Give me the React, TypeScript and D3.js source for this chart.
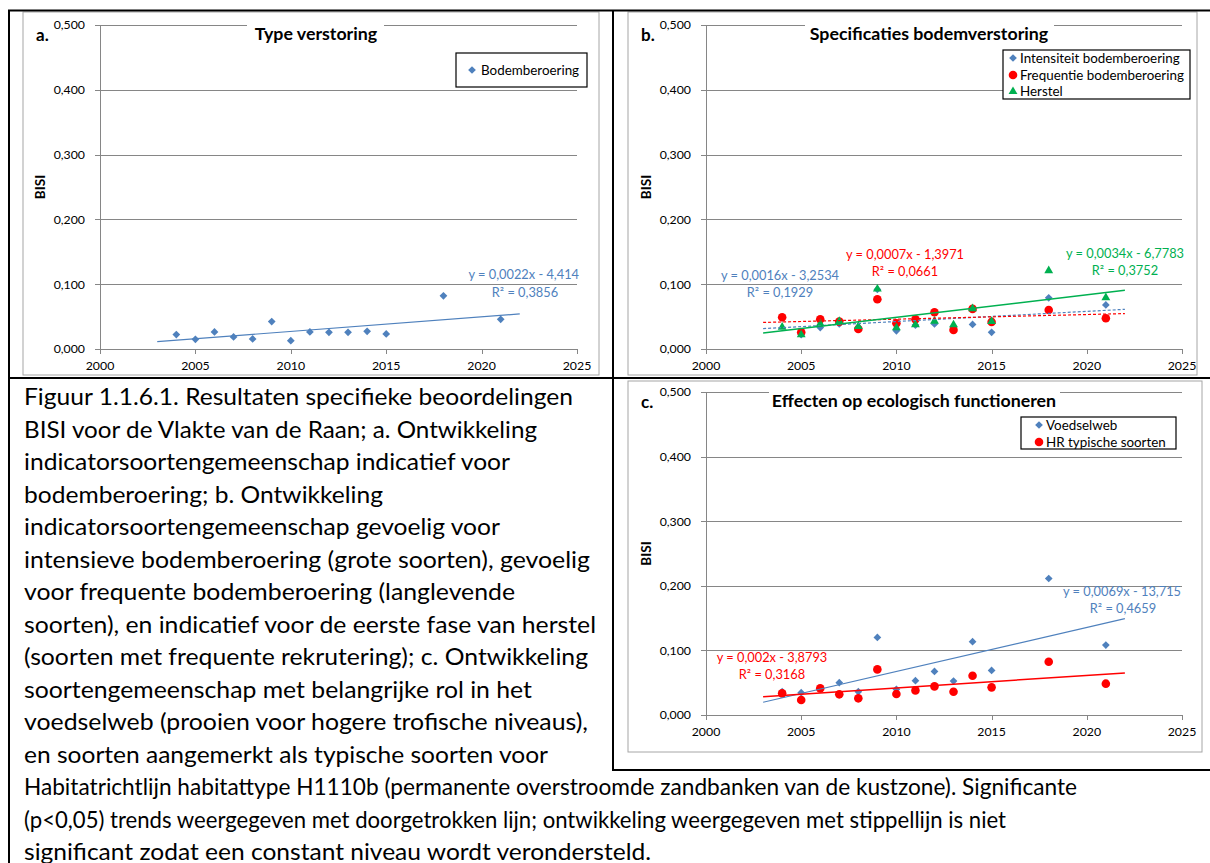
import React from "react";
import * as d3 from "d3";

// ---------- DATA ----------
const years = [2004, 2005, 2006, 2007, 2008, 2009, 2010, 2011, 2012, 2013, 2014, 2015, 2018, 2021];
const bodemberoering = [0.0222, 0.0149, 0.0263, 0.0186, 0.0155, 0.0423, 0.0129, 0.0263, 0.0258, 0.0258, 0.0273, 0.0232, 0.082, 0.0459];
const intensiteit = [0.048, 0.022, 0.033, 0.0387, 0.033, 0.092, 0.028, 0.037, 0.0387, 0.033, 0.038, 0.0258, 0.079, 0.068];
const frequentie = [0.049, 0.0258, 0.0459, 0.0423, 0.0309, 0.0768, 0.0397, 0.0459, 0.0567, 0.0294, 0.0619, 0.0418, 0.0603, 0.0474];
const herstel = [0.0345, 0.0227, 0.0397, 0.0433, 0.0356, 0.0933, 0.0335, 0.0381, 0.0438, 0.0381, 0.0629, 0.0433, 0.1216, 0.0799];
const voedselweb = [0.036, 0.0345, 0.041, 0.05, 0.036, 0.12, 0.0397, 0.0531, 0.0675, 0.0526, 0.1134, 0.069, 0.2113, 0.1082];
const hrTypisch = [0.0335, 0.0232, 0.0412, 0.032, 0.0258, 0.0706, 0.0325, 0.0381, 0.0443, 0.0361, 0.0608, 0.0428, 0.0825, 0.0485];

const xTicks = [2000, 2005, 2010, 2015, 2020, 2025];
const yTicks = [0, 0.1, 0.2, 0.3, 0.4, 0.5];
const yTickLabels = ["0,000", "0,100", "0,200", "0,300", "0,400", "0,500"];
const yAxisTitle = "BISI";

const titles = ["Type verstoring", "Specificaties bodemverstoring", "Effecten op ecologisch functioneren"];
const letters = ["a.", "b.", "c."];

const eqA = ["y = 0,0022x - 4,414", "R² = 0,3856"];
const eqBIntensiteit = ["y = 0,0016x - 3,2534", "R² = 0,1929"];
const eqBFrequentie = ["y = 0,0007x - 1,3971", "R² = 0,0661"];
const eqBHerstel = ["y = 0,0034x - 6,7783", "R² = 0,3752"];
const eqCVoedselweb = ["y = 0,0069x - 13,715", "R² = 0,4659"];
const eqCHr = ["y = 0,002x - 3,8793", "R² = 0,3168"];

const captionLines = [
  "Figuur 1.1.6.1. Resultaten specifieke beoordelingen",
  "BISI voor de Vlakte van de Raan; a. Ontwikkeling",
  "indicatorsoortengemeenschap indicatief voor",
  "bodemberoering; b. Ontwikkeling",
  "indicatorsoortengemeenschap gevoelig voor",
  "intensieve bodemberoering (grote soorten), gevoelig",
  "voor frequente bodemberoering (langlevende",
  "soorten), en indicatief voor de eerste fase van herstel",
  "(soorten met frequente rekrutering); c. Ontwikkeling",
  "soortengemeenschap met belangrijke rol in het",
  "voedselweb (prooien voor hogere trofische niveaus),",
  "en soorten aangemerkt als typische soorten voor",
  "Habitatrichtlijn habitattype H1110b (permanente overstroomde zandbanken van de kustzone). Significante",
  "(p<0,05) trends weergegeven met doorgetrokken lijn; ontwikkeling weergegeven met stippellijn is niet",
  "significant zodat een constant niveau wordt verondersteld.",
];

// ---------- LAYOUT / STYLE ----------
const captionLineWidths = [549, 513, 486, 359, 476, 566, 491, 572, 564, 508, 564, 524, 1053, 982, 627];

const BLUE = "#4F81BD";
const RED = "#FF0000";
const GREEN = "#00B050";
const GRID = "#868686";
const FONT = "Lato, 'Open Sans', sans-serif";

const diamondPath = d3.symbol(d3.symbolSquare, 30)() as string;
const circlePath = d3.symbol(d3.symbolCircle, 58)() as string;
const trianglePath = d3.symbol(d3.symbolTriangle, 34)() as string;

function Marker({ kind, color, x, y }: { kind: string; color: string; x: number; y: number }) {
  if (kind === "diamond") return <path d={diamondPath} fill={color} transform={`translate(${x},${y}) rotate(45)`} />;
  if (kind === "circle") return <path d={circlePath} fill={color} transform={`translate(${x},${y})`} />;
  return <path d={trianglePath} fill={color} transform={`translate(${x},${y + 0.5})`} />;
}

function linreg(xs: number[], ys: number[]) {
  const mx = d3.mean(xs)!;
  const my = d3.mean(ys)!;
  let sxy = 0, sxx = 0;
  xs.forEach((x, i) => { sxy += (x - mx) * (ys[i] - my); sxx += (x - mx) * (x - mx); });
  const m = sxy / sxx;
  return { m, b: my - m * mx };
}

type Series = { values: number[]; kind: string; color: string; label: string; dashed: boolean; lineWidth: number };
type EqLabel = { lines: string[]; color: string; x: number; y: number; anchor: string };

function Panel(props: {
  ax0: number; ax1: number; yZero: number; yTop: number;
  box: [number, number, number, number];
  letter: string; letterX: number;
  title: string; titleX: number; titleGap: [number, number];
  series: Series[];
  legend: { x0: number; x1: number; y0: number; y1: number; markerX: number; textX: number; rowY: number[] };
  eqs: EqLabel[];
}) {
  const { ax0, ax1, yZero, yTop, box, series, legend, eqs } = props;
  const x = d3.scaleLinear().domain([2000, 2025]).range([ax0, ax1]);
  const y = d3.scaleLinear().domain([0, 0.5]).range([yZero, yTop]);
  const line = d3.line<[number, number]>().x((d) => x(d[0])).y((d) => y(d[1]));
  return (
    <g>
      <rect x={box[0]} y={box[1]} width={box[2] - box[0]} height={box[3] - box[1]} fill="#fff" stroke="#A6A6A6" strokeWidth={1} />
      {yTicks.map((t, i) => (
        <g key={"y" + i}>
          <line x1={ax0 - 5} x2={ax1} y1={Math.round(y(t)) + 0.5} y2={Math.round(y(t)) + 0.5} stroke={GRID} strokeWidth={1} />
          <text x={ax0 - 15} y={y(t)} dy="0.35em" textAnchor="end" fontSize={12.3} fontFamily={FONT} fill="#000">
            {yTickLabels[i]}
          </text>
        </g>
      ))}
      <line x1={Math.round(ax0) + 0.5} x2={Math.round(ax0) + 0.5} y1={yTop} y2={yZero + 0.5} stroke={GRID} strokeWidth={1} />
      {xTicks.map((t) => (
        <g key={"x" + t}>
          <line x1={Math.round(x(t)) + 0.5} x2={Math.round(x(t)) + 0.5} y1={yZero} y2={yZero + 5} stroke={GRID} strokeWidth={1} />
          <text x={x(t)} y={yZero + 17} dy="0.35em" textAnchor="middle" fontSize={12.3} fontFamily={FONT} fill="#000">
            {t}
          </text>
        </g>
      ))}
      <text transform={`translate(${ax0 - 60},${(yZero + yTop) / 2}) rotate(-90)`} textAnchor="middle" dy="0.35em"
        fontSize={13.5} fontWeight="bold" fontFamily={FONT} fill="#000">{yAxisTitle}</text>
      <rect x={props.titleGap[0]} y={yTop - 6} width={props.titleGap[1] - props.titleGap[0]} height={14} fill="#fff" />
      <text x={props.titleX} y={yTop + 9} dy="0.35em" textAnchor="middle" fontSize={17.8} fontWeight="bold" fontFamily={FONT} fill="#000">
        {props.title}
      </text>
      <text x={props.letterX} y={yTop + 10} dy="0.35em" fontSize={17} fontWeight="bold" fontFamily={FONT} fill="#000">
        {props.letter}
      </text>
      {series.map((s, si) => (
        <g key={"s" + si}>
          {years.map((yr, i) => (
            <Marker key={i} kind={s.kind} color={s.color} x={x(yr)} y={y(s.values[i])} />
          ))}
        </g>
      ))}
      {series.map((s, si) => {
        const r = linreg(years, s.values);
        const x0 = d3.min(years)! - 1, x1 = d3.max(years)! + 1;
        const pts: [number, number][] = [[x0, r.m * x0 + r.b], [x1, r.m * x1 + r.b]];
        return (
          <path key={"t" + si} d={line(pts) as string} stroke={s.color} strokeWidth={s.lineWidth} fill="none"
            strokeDasharray={s.dashed ? "3,2" : undefined} />
        );
      })}
      {eqs.map((e, ei) => (
        <g key={"e" + ei}>
          {e.lines.map((l, li) => (
            <text key={li} x={e.x} y={e.y + li * 17} dy="0.35em" textAnchor={e.anchor} fontSize={12.8} fontFamily={FONT} fill={e.color}>
              {l}
            </text>
          ))}
        </g>
      ))}
      <rect x={legend.x0} y={legend.y0} width={legend.x1 - legend.x0} height={legend.y1 - legend.y0} fill="#fff" stroke="#000" strokeWidth={1.2} />
      {series.map((s, si) => (
        <g key={"l" + si}>
          <Marker kind={s.kind} color={s.color} x={legend.markerX} y={legend.rowY[si]} />
          <text x={legend.textX} y={legend.rowY[si]} dy="0.35em" fontSize={13.4} fontFamily={FONT} fill="#000">{s.label}</text>
        </g>
      ))}
    </g>
  );
}

export default function App() {
  return (
    <svg width={1210} height={863} style={{ position: "absolute", left: 0, top: 0, background: "#fff" }}>
      <rect x={0} y={0} width={1210} height={863} fill="#fff" />
      <Panel
        ax0={100} ax1={577} yZero={349} yTop={25} box={[23, 12, 599, 375]}
        letter={letters[0]} letterX={36} title={titles[0]} titleX={316} titleGap={[247, 384]}
        series={[{ values: bodemberoering, kind: "diamond", color: BLUE, label: "Bodemberoering", dashed: false, lineWidth: 1.2 }]}
        legend={{ x0: 456, x1: 587, y0: 53, y1: 87, markerX: 472, textX: 481, rowY: [70] }}
        eqs={[{ lines: [eqA[0]], color: BLUE, x: 579, y: 275, anchor: "end" }, { lines: [eqA[1]], color: BLUE, x: 525, y: 293, anchor: "middle" }]}
      />
      <Panel
        ax0={706} ax1={1182} yZero={349} yTop={25} box={[628, 12, 1197, 375]}
        letter={letters[1]} letterX={641} title={titles[1]} titleX={929} titleGap={[805, 1054]}
        series={[
          { values: intensiteit, kind: "diamond", color: BLUE, label: "Intensiteit bodemberoering", dashed: true, lineWidth: 1.2 },
          { values: frequentie, kind: "circle", color: RED, label: "Frequentie bodemberoering", dashed: true, lineWidth: 1.2 },
          { values: herstel, kind: "triangle", color: GREEN, label: "Herstel", dashed: false, lineWidth: 1.5 },
        ]}
        legend={{ x0: 1003, x1: 1190, y0: 50, y1: 99, markerX: 1013, textX: 1020, rowY: [58, 75, 91] }}
        eqs={[
          { lines: eqBIntensiteit, color: BLUE, x: 780, y: 276, anchor: "middle" },
          { lines: eqBFrequentie, color: RED, x: 905, y: 255, anchor: "middle" },
          { lines: eqBHerstel, color: GREEN, x: 1125, y: 254, anchor: "middle" },
        ]}
      />
      <Panel
        ax0={706} ax1={1182} yZero={715} yTop={392} box={[628, 381, 1202, 752]}
        letter={letters[2]} letterX={641} title={titles[2]} titleX={914} titleGap={[769, 1060]}
        series={[
          { values: voedselweb, kind: "diamond", color: BLUE, label: "Voedselweb", dashed: false, lineWidth: 1.2 },
          { values: hrTypisch, kind: "circle", color: RED, label: "HR typische soorten", dashed: false, lineWidth: 1.5 },
        ]}
        legend={{ x0: 1021, x1: 1176, y0: 417, y1: 449, markerX: 1039, textX: 1046, rowY: [425, 442] }}
        eqs={[
          { lines: [eqCVoedselweb[0]], color: BLUE, x: 1181, y: 592, anchor: "end" },
          { lines: [eqCVoedselweb[1]], color: BLUE, x: 1123, y: 609, anchor: "middle" },
          { lines: eqCHr, color: RED, x: 772, y: 658, anchor: "middle" },
        ]}
      />
      {/* frame lines */}
      <line x1={8} x2={1210} y1={10.5} y2={10.5} stroke="#000" strokeWidth={2} />
      <line x1={9} x2={9} y1={10} y2={863} stroke="#000" strokeWidth={2} />
      <line x1={613} x2={613} y1={10} y2={771} stroke="#000" strokeWidth={2} />
      <line x1={8} x2={1210} y1={378} y2={378} stroke="#000" strokeWidth={2} />
      <line x1={612} x2={1210} y1={770} y2={770} stroke="#000" strokeWidth={2} />
      {/* caption */}
      {captionLines.map((l, i) => (
        <text key={i} x={24} y={405 + i * 32.5} fontSize={23.2} fontFamily={FONT} fill="#000"
          textLength={captionLineWidths[i]} lengthAdjust="spacingAndGlyphs">{l}</text>
      ))}
    </svg>
  );
}
